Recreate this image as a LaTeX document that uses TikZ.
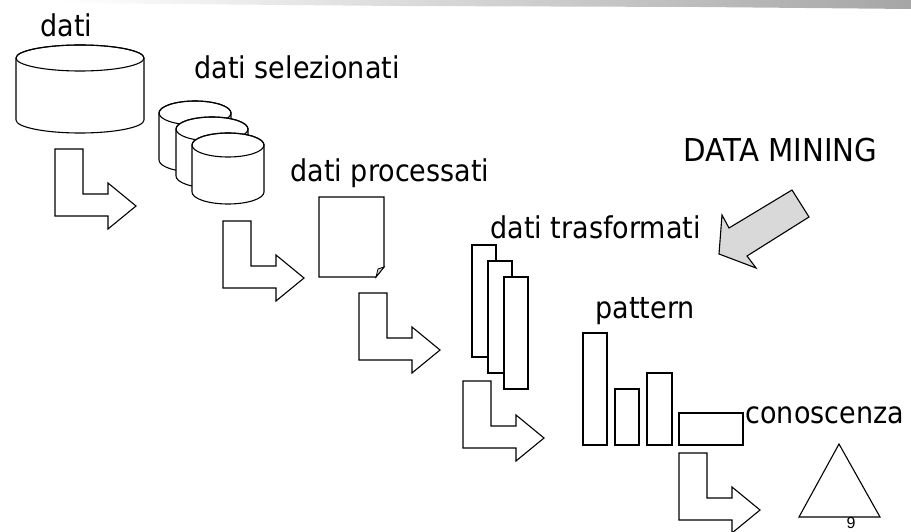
\documentclass[tikz,border=0pt]{standalone}
\usepackage{fontspec}
\setmainfont{DejaVu Sans}[FakeStretch=0.9]
\newfontfamily\capfont{DejaVu Sans}[FakeStretch=0.93]
\newfontfamily\numfont{Liberation Sans}
\begin{document}
\begin{tikzpicture}[x=1pt,y=-1pt,line width=1.1pt,line join=miter,
  lbl/.style={anchor=base west,inner sep=0pt,font=\fontsize{30}{33}\selectfont},
  shp/.style={draw=black,fill=white},
  larrow/.pic={\draw[shp] (0,0) -- (28,0) -- (28,45) -- (53,45) -- (53,34) -- (81,57) -- (53,80) -- (53,67) -- (0,67) -- cycle;}]
\useasboundingbox (0,0) rectangle (911,532);
% top streak
\shade[left color=white,right color=black!35] (60,0) -- (911,0) -- (911,9) -- (700,7) -- (400,6) -- (60,3) -- cycle;
% big cylinder
\filldraw[shp] (16,58) -- (16,120) arc[start angle=180,end angle=360,x radius=64pt,y radius=13pt] -- (144,58) arc[start angle=0,end angle=180,x radius=64pt,y radius=13pt] -- cycle;
\draw (80,58) ellipse[x radius=64pt,y radius=13pt];
% small cylinders
\foreach \cx/\ty in {195/113,212/129,228/145}{
  \filldraw[shp] (\cx-36,\ty) -- (\cx-36,\ty+47) arc[start angle=180,end angle=360,x radius=36pt,y radius=12pt] -- (\cx+36,\ty) arc[start angle=0,end angle=180,x radius=36pt,y radius=12pt] -- cycle;
  \draw (\cx,\ty) ellipse[x radius=36pt,y radius=12pt];
}
% document
\filldraw[shp] (319,197) -- (384,197) -- (384,267) -- (376,277) -- (319,277) -- cycle;
\filldraw[draw=black,fill=black!15,line width=0.8pt] (376,277) -- (378,269) -- (384,267) -- cycle;
% transformed data
\draw[shp] (472,245) rectangle (496,357);
\draw[shp] (488,261) rectangle (512,373);
\draw[shp] (504,277) rectangle (528,389);
% pattern bars
\draw[shp] (583,333) rectangle (607,445);
\draw[shp] (615,389) rectangle (639,445);
\draw[shp] (647,373) rectangle (672,445);
\draw[shp] (679,413) rectangle (743,445);
% triangle
\draw[shp] (839,444) -- (880,517) -- (799,517) -- cycle;
% L arrows
\pic at (55,149) {larrow};
\pic at (223,221) {larrow};
\pic at (359,293) {larrow};
\pic at (463,381) {larrow};
\pic at (679,453) {larrow};
% data mining arrow
\filldraw[draw=black,fill=black!15] (719,254) -- (722,215) -- (729,228) -- (792,190) -- (809,217) -- (747,256) -- (756,268) -- cycle;
% labels
\node[lbl] (t1) at (40,37) {dati};
\node[lbl] (t2) at (194,79) {dati selezionati};
\node[lbl] (t3) at (290,182) {dati processati};
\node[lbl,font=\capfont\fontsize{31.5}{34}\selectfont] (t4) at (683,162) {DATA MINING};
\node[lbl] (t5) at (490,238) {dati trasformati};
\node[lbl] (t6) at (595,318) {pattern};
\node[lbl] (t7) at (745,423) {conoscenza};
\node[anchor=north,inner sep=0pt,font=\numfont\fontsize{16}{18}\selectfont] (pg) at (851,517) {9};
\end{tikzpicture}
\end{document}
